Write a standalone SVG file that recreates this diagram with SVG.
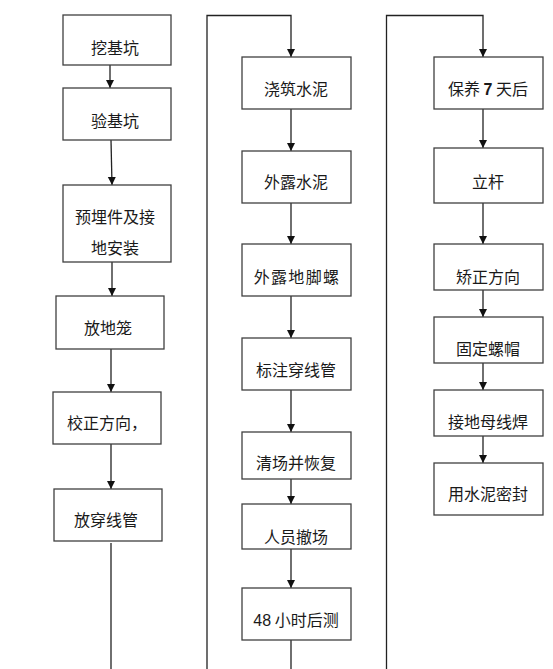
<svg xmlns="http://www.w3.org/2000/svg" width="553" height="669" viewBox="0 0 553 669">
<style>
.box{fill:#fff;stroke:#404040;stroke-width:1.3}
.t{font-family:"Noto Sans CJK SC","Noto Sans",sans-serif;font-size:16px;fill:#1a1a1a;text-anchor:middle}
.n{font-family:"Liberation Sans",Arial,sans-serif}
.b{font-weight:bold}
.c{fill:none;stroke:#222;stroke-width:1.3}
</style>
<defs>
<marker id="ah" markerUnits="userSpaceOnUse" markerWidth="9" markerHeight="9" refX="8" refY="4" orient="auto">
<path d="M0,0 L8,4 L0,8 z" fill="#111"/>
</marker>
</defs>
<rect width="553" height="669" fill="#fff"/>
<g id="connectors">
<line class="c" x1="110" y1="65" x2="110" y2="88" marker-end="url(#ah)"/>
<line class="c" x1="111" y1="140" x2="112" y2="185" marker-end="url(#ah)"/>
<line class="c" x1="112" y1="262" x2="112" y2="296" marker-end="url(#ah)"/>
<line class="c" x1="111" y1="349" x2="111" y2="392" marker-end="url(#ah)"/>
<line class="c" x1="111" y1="444" x2="111" y2="489" marker-end="url(#ah)"/>
<line class="c" x1="111" y1="543" x2="111" y2="669"/>
<path class="c" d="M207,669 V15.5 H291 V57" marker-end="url(#ah)"/>
<line class="c" x1="291" y1="109" x2="291" y2="151" marker-end="url(#ah)"/>
<line class="c" x1="291" y1="203" x2="291" y2="244" marker-end="url(#ah)"/>
<line class="c" x1="291" y1="296" x2="291" y2="338" marker-end="url(#ah)"/>
<line class="c" x1="291" y1="390" x2="291" y2="432" marker-end="url(#ah)"/>
<line class="c" x1="291" y1="479" x2="291" y2="504" marker-end="url(#ah)"/>
<line class="c" x1="291" y1="549" x2="291" y2="588" marker-end="url(#ah)"/>
<line class="c" x1="291" y1="640" x2="291" y2="669"/>
<path class="c" d="M386.5,669 V15.5 H483 V57" marker-end="url(#ah)"/>
<line class="c" x1="483" y1="109" x2="483" y2="148" marker-end="url(#ah)"/>
<line class="c" x1="483" y1="203" x2="483" y2="244" marker-end="url(#ah)"/>
<line class="c" x1="483" y1="290" x2="483" y2="317" marker-end="url(#ah)"/>
<line class="c" x1="483" y1="363" x2="483" y2="390" marker-end="url(#ah)"/>
<line class="c" x1="483" y1="436" x2="483" y2="463" marker-end="url(#ah)"/>
</g>
<g id="n1"><rect class="box" x="63" y="15" width="108" height="50"/><text class="t" x="115" y="53.5">挖基坑</text></g>
<g id="n2"><rect class="box" x="63" y="88" width="108" height="52"/><text class="t" x="115" y="126.5">验基坑</text></g>
<g id="n3"><rect class="box" x="63" y="185" width="108" height="77"/><text class="t" x="115" y="222.5">预埋件及接</text><text class="t" x="115" y="253.5">地安装</text></g>
<g id="n4"><rect class="box" x="56" y="296" width="108" height="53"/><text class="t" x="108" y="333.5">放地笼</text></g>
<g id="n5"><rect class="box" x="53" y="392" width="108" height="52"/><text class="t" x="67" y="428.5" style="text-anchor:start">校正方向，</text></g>
<g id="n6"><rect class="box" x="54" y="489" width="108" height="52"/><text class="t" x="106" y="525.5">放穿线管</text></g>
<g id="m1"><rect class="box" x="242" y="57" width="109" height="52"/><text class="t" x="296" y="94.5">浇筑水泥</text></g>
<g id="m2"><rect class="box" x="242" y="151" width="109" height="52"/><text class="t" x="296" y="188">外露水泥</text></g>
<g id="m3"><rect class="box" x="242" y="244" width="109" height="52"/><text class="t" x="297" y="282.5" style="letter-spacing:1.3px">外露地脚螺</text></g>
<g id="m4"><rect class="box" x="242" y="338" width="109" height="52"/><text class="t" x="296" y="375.5">标注穿线管</text></g>
<g id="m5"><rect class="box" x="242" y="432" width="109" height="47"/><text class="t" x="296" y="468.5">清场并恢复</text></g>
<g id="m6"><rect class="box" x="242" y="504" width="109" height="45"/><text class="t" x="296" y="542.5">人员撤场</text></g>
<g id="m7"><rect class="box" x="242" y="588" width="109" height="52"/><text class="t" x="296" y="625.5"><tspan class="n">48</tspan> 小时后测</text></g>
<g id="r1"><rect class="box" x="434" y="57" width="109" height="52"/><text class="t" x="488" y="94.5">保养 <tspan class="n b">7</tspan> 天后</text></g>
<g id="r2"><rect class="box" x="434" y="148" width="109" height="55"/><text class="t" x="488" y="187.5">立杆</text></g>
<g id="r3"><rect class="box" x="434" y="244" width="109" height="46"/><text class="t" x="488" y="282.5">矫正方向</text></g>
<g id="r4"><rect class="box" x="434" y="317" width="109" height="46"/><text class="t" x="488" y="355">固定螺帽</text></g>
<g id="r5"><rect class="box" x="434" y="390" width="109" height="46"/><text class="t" x="488" y="427.5">接地母线焊</text></g>
<g id="r6"><rect class="box" x="434" y="463" width="109" height="52"/><text class="t" x="488" y="500">用水泥密封</text></g>
</svg>
